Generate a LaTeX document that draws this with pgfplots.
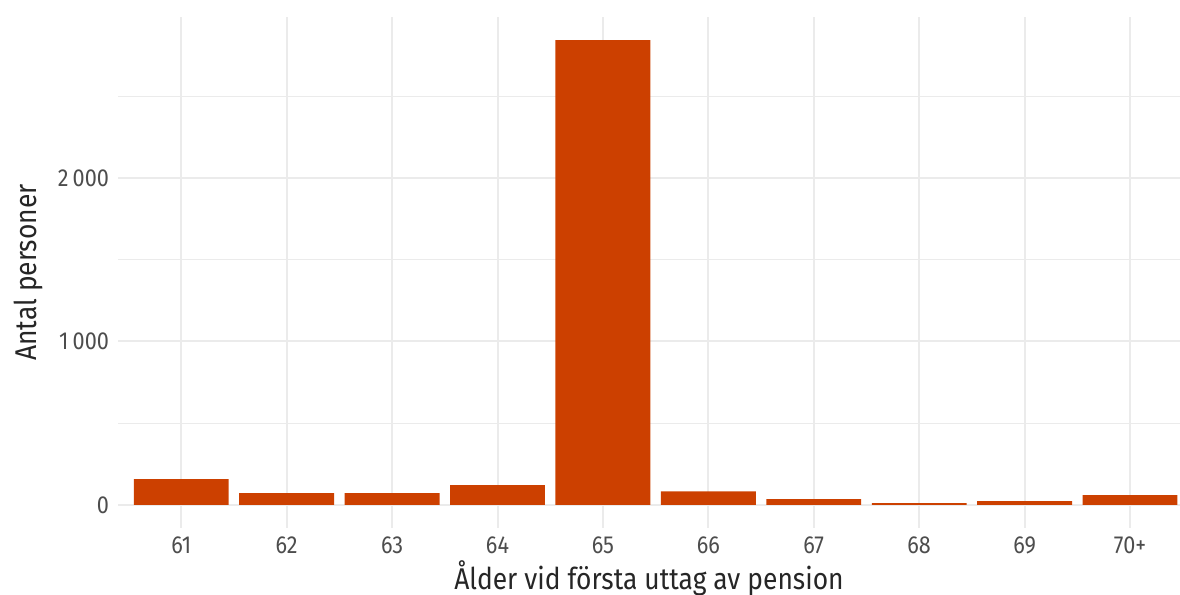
\documentclass[border=0pt]{standalone}
\usepackage{fontspec}
\setmainfont[FakeStretch=0.88]{Fira Sans}
\usepackage{pgfplots}
\pgfplotsset{compat=1.18}
\definecolor{barorange}{RGB}{204,64,0}
\definecolor{gridgray}{RGB}{235,235,235}
\definecolor{tickgray}{RGB}{77,77,77}

\begin{document}
\begin{tikzpicture}
\useasboundingbox (-59pt,-33.5pt) rectangle (531pt,264pt);
\begin{axis}[
  at={(0,0)}, anchor=south west,
  scale only axis,
  width=531pt, height=255.5pt,
  ybar, bar width=0.9, bar shift=0pt,
  xmin=-0.6, xmax=9.474,
  ymin=-142, ymax=2986,
  xtick={0,...,9},
  xticklabels={61,62,63,64,65,66,67,68,69,70+},
  ytick={0,1000,2000},
  yticklabels={0,1\,000,2\,000},
  minor ytick={500,1500,2500},
  grid=both,
  major grid style={gridgray, line width=1pt},
  minor grid style={gridgray, line width=0.6pt},
  axis line style={draw=none},
  major tick length=0pt, minor tick length=0pt,
  tick label style={font=\fontsize{12.3}{14}\selectfont, text=tickgray},
  xticklabel style={yshift=-1pt},
  yticklabel style={xshift=-1pt},
  label style={font=\fontsize{15}{17}\selectfont, text=black!85},
  xlabel={Ålder vid första uttag av pension},
  ylabel={Antal personer},
  xlabel style={at={(axis description cs:0.5,-0.098)}, anchor=center},
  ylabel style={at={(axis description cs:-0.0847,0.5)}, anchor=center},
  /pgf/number format/assume math mode=true,
  clip=false,
]
  \addplot[fill=barorange, draw=none]
    coordinates {(0,157)(1,72)(2,72)(3,120)(4,2844)(5,82)(6,35)(7,10)(8,23)(9,59)};
\end{axis}
\end{tikzpicture}
\end{document}
